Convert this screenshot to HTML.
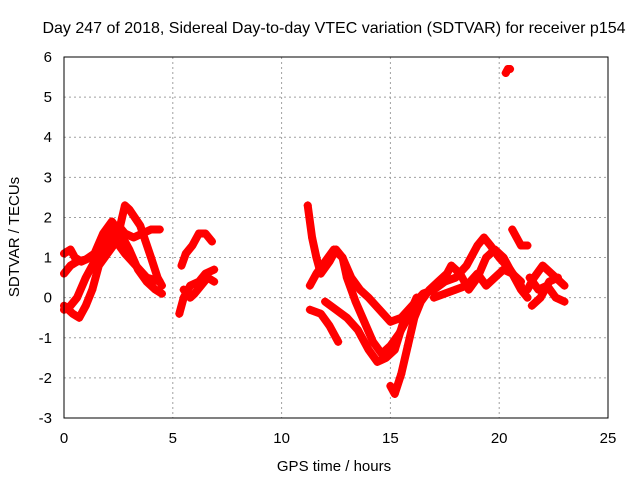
<!DOCTYPE html>
<html><head><meta charset="utf-8"><style>
body{margin:0;background:#fff}
svg{display:block;font-family:"Liberation Sans",sans-serif;font-size:15px}
</style></head><body>
<svg id="chart" width="640" height="480">
<rect x="0" y="0" width="640" height="480" fill="#fff"/>
<text x="334" y="33" text-anchor="middle" font-size="16">Day 247 of 2018, Sidereal Day-to-day VTEC variation (SDTVAR) for receiver p154</text>
<text x="334" y="471" text-anchor="middle">GPS time / hours</text>
<text transform="translate(19,237) rotate(-90)" text-anchor="middle">SDTVAR / TECUs</text>
<g id="grid"></g><g id="ticks"></g><g id="marks"></g>
<rect x="64" y="57" width="544" height="361" fill="none" stroke="#000"/>
</svg>
<script>
const xTicks=[0,5,10,15,20,25];
const yTicks=[-3,-2,-1,0,1,2,3,4,5,6];
const tracks=[
[[0,-0.3],[0.3,-0.2],[0.6,0],[1.0,0.5],[1.5,1.0],[2.0,1.3],[2.5,1.6],[2.8,2.3],[3.0,2.2],[3.5,1.8],[4.0,1.0],[4.3,0.5],[4.5,0.3]],
[[0,1.1],[0.3,1.2],[0.5,1.0],[0.8,0.9],[1.2,1.0],[1.6,1.2],[2.0,1.5],[2.5,1.8],[2.8,1.6],[3.2,1.5],[3.6,1.6],[4.0,1.7],[4.4,1.7]],
[[0,0.6],[0.3,0.8],[0.6,0.9],[1.0,0.95],[1.4,1.1],[1.8,1.6],[2.2,1.9],[2.6,1.6],[3.0,1.2],[3.4,0.7],[3.8,0.4],[4.2,0.2],[4.5,0.1]],
[[0,-0.2],[0.4,-0.4],[0.7,-0.5],[1.0,-0.2],[1.3,0.2],[1.6,0.8],[2.0,1.1],[2.4,1.4],[2.8,1.1],[3.3,0.8],[3.8,0.5],[4.4,0.4]],
[[5.3,-0.4],[5.5,0.0],[5.8,0.3],[6.2,0.4],[6.5,0.6],[6.9,0.7]],
[[5.4,0.8],[5.6,1.1],[5.9,1.3],[6.2,1.6],[6.5,1.6],[6.8,1.4]],
[[5.5,0.2],[5.8,0.0],[6.0,0.1],[6.3,0.3],[6.6,0.5],[6.9,0.4]],
[[11.2,2.3],[11.4,1.5],[11.6,1.0],[11.8,0.6],[12.2,0.9],[12.5,1.2],[12.8,1.0],[13.0,0.5],[13.4,-0.1],[13.8,-0.6],[14.2,-1.1],[14.6,-1.4],[15.0,-1.2],[15.4,-0.9],[15.8,-0.5],[16.2,0.0]],
[[11.3,0.3],[11.6,0.6],[12.0,0.9],[12.4,1.2],[12.8,1.0],[13.2,0.5],[13.6,0.2],[14.0,0.0],[14.5,-0.3],[15.0,-0.6],[15.5,-0.5],[16.0,-0.2],[16.5,0.1],[17.0,0.2],[17.5,0.4],[18.0,0.5],[18.5,0.8],[19.0,1.3],[19.3,1.5],[19.6,1.3],[20.0,1.0],[20.5,0.7],[21.0,0.3]],
[[11.3,-0.3],[11.8,-0.4],[12.2,-0.7],[12.6,-1.1]],
[[12.0,-0.1],[12.5,-0.3],[13.0,-0.5],[13.5,-0.8],[14.0,-1.3],[14.4,-1.6],[14.8,-1.5],[15.2,-1.3],[15.6,-0.6],[16.0,-0.4]],
[[15.0,-2.2],[15.2,-2.4],[15.5,-1.9],[15.8,-1.2],[16.1,-0.5],[16.4,-0.1],[16.8,0.2],[17.2,0.4],[17.6,0.6],[17.8,0.8],[18.2,0.6],[18.6,0.2],[19.0,0.5],[19.4,1.0],[19.8,1.2],[20.2,1.0],[20.6,0.6],[21.0,0.2],[21.3,0.0]],
[[17.0,0.0],[17.5,0.1],[18.0,0.2],[18.5,0.3],[19.0,0.6],[19.4,0.3],[19.8,0.5],[20.2,0.7],[20.6,0.6],[21.0,0.4]],
[[20.6,1.7],[20.8,1.5],[21.0,1.3],[21.3,1.3]],
[[20.3,5.6],[20.4,5.7],[20.5,5.7]],
[[21.3,0.2],[21.6,0.5],[22.0,0.8],[22.4,0.6],[22.8,0.4],[23.0,0.3]],
[[21.4,0.5],[21.8,0.2],[22.2,0.3],[22.6,0.0],[23.0,-0.1]],
[[21.5,-0.2],[21.9,0.0],[22.3,0.4],[22.7,0.5]]
];
const NS="http://www.w3.org/2000/svg";
const X=v=>64+v*(544/25), Y=v=>418-(v+3)*(361/9);
function mk(t,a,p){const e=document.createElementNS(NS,t);for(const k in a)e.setAttribute(k,a[k]);p.appendChild(e);return e;}
const grid=document.getElementById('grid'),ticks=document.getElementById('ticks'),marks=document.getElementById('marks');
xTicks.forEach(v=>{
 const l=mk('line',{x1:X(v),x2:X(v),y1:57,y2:418,stroke:'#a0a0a0','stroke-dasharray':'2,3'},grid);
 
 
 const t=mk('text',{x:X(v),y:443,'text-anchor':'middle'},ticks);t.textContent=v;
 
 
});
yTicks.forEach(v=>{
 const l=mk('line',{x1:64,x2:608,y1:Y(v),y2:Y(v),stroke:'#a0a0a0','stroke-dasharray':'2,3'},grid);
 
 
 const t=mk('text',{x:52,y:Y(v)+5,'text-anchor':'end'},ticks);t.textContent=v;
 
 
});
tracks.forEach((tr,i)=>{
 const pl=mk('polyline',{points:tr.map(p=>X(p[0])+','+Y(p[1])).join(' '),fill:'none',stroke:'#ff0000','stroke-width':8,'stroke-linejoin':'round','stroke-linecap':'round'},marks);
 
 
 tr.forEach(p=>{
  const m=mk('path',{d:`M${X(p[0])-4},${Y(p[1])}h8M${X(p[0])},${Y(p[1])-4}v8`,stroke:'#ff0000','stroke-width':1.5},marks);
  
  
 });
});
</script>
</body></html>
